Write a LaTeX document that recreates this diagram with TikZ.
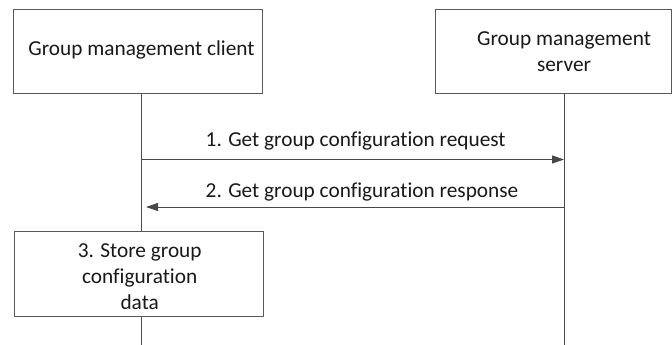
\documentclass[tikz,border=0pt]{standalone}
\usepackage{fontspec}
\setmainfont{Carlito}[Ligatures={NoCommon}]
\usetikzlibrary{arrows.meta}
\begin{document}
\begin{tikzpicture}[x=1pt,y=-1pt,
  box/.style={draw=black!65, line width=1pt, fill=white, inner sep=0pt},
  txt/.style={inner sep=0pt, align=center, font=\fontsize{21.3}{25.8}\selectfont, text=black!90},
  life/.style={draw=black!70, line width=1pt},
  msg/.style={draw=black!72, line width=1pt, -{Triangle[length=12pt,width=8pt]}},
]
\useasboundingbox (0,0) rectangle (672,345);
% boxes
\node[box, minimum width=249pt, minimum height=83.5pt] (client) at (138,51.25) {};
\node[txt] (clienttxt) at (141.5,50) {Group management client};
\node[box, minimum width=236pt, minimum height=83.5pt] (server) at (553.5,51.25) {};
\node[txt] (servertxt) at (564,51.7) {Group management\\server};
% lifelines
\coordinate (c0) at (141.5,93);
\coordinate (c1) at (141.5,345);
\coordinate (s0) at (564,93);
\coordinate (s1) at (564,345);
\draw[life] (c0) -- (c1);
\draw[life] (s0) -- (s1);
% messages
\coordinate (m1a) at (141.5,159.5);
\coordinate (m1b) at (564,159.5);
\coordinate (m2a) at (564,207);
\coordinate (m2b) at (146,207);
\draw[msg] (m1a) -- (m1b);
\draw[msg] (m2a) -- (m2b);
\node[txt, anchor=west] (l1) at (205.5,141.5) {1. Get group configuration request};
\node[txt, anchor=west] (l2) at (205.5,192.5) {2. Get group configuration response};
% store box
\node[box, minimum width=248.6pt, minimum height=84.3pt] (store) at (139,273.85) {};
\node[txt] (storetxt) at (139.7,276.5) {3. Store group\\configuration\\data};
\end{tikzpicture}
\end{document}
